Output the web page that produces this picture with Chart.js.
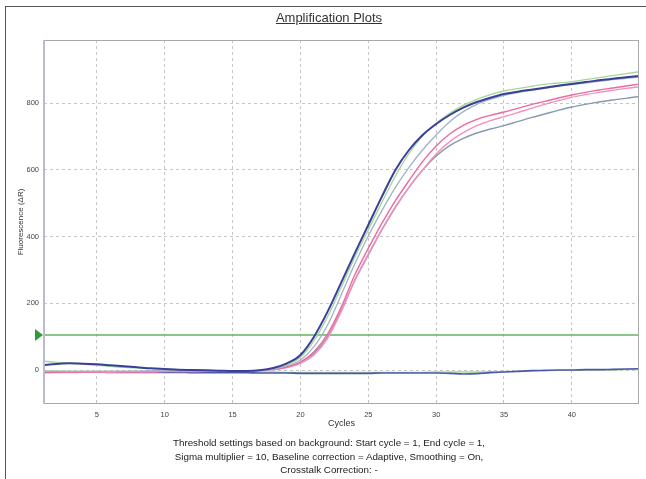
<!DOCTYPE html>
<html>
<head>
<meta charset="utf-8">
<script src="https://cdn.jsdelivr.net/npm/chart.js@4/dist/chart.umd.min.js"></script>
<style>
  html, body { margin: 0; padding: 0; background: #fff; }
  body { width: 646px; height: 479px; position: relative; overflow: hidden; font-family: "Liberation Sans", Arial, sans-serif; }
  #frame { position: absolute; left: 5px; top: 6px; width: 700px; height: 600px; border-left: 1px solid #555; border-top: 1px solid #555; }
  #chart { position: absolute; left: 0; top: 0; }
  #title { position: absolute; left: 0; width: 658px; top: 10px; text-align: center; font-size: 13px; color: #333; text-decoration: underline; }
  #footer { position: absolute; left: 0; width: 658px; top: 436px; text-align: center; font-size: 9.8px; line-height: 13.5px; color: #222; }
</style>
</head>
<body>
<div id="frame"></div>
<canvas id="chart" width="646" height="479"></canvas>
<div id="title">Amplification Plots</div>
<div id="footer">Threshold settings based on background: Start cycle = 1, End cycle = 1,<br>Sigma multiplier = 10, Baseline correction = Adaptive, Smoothing = On,<br>Crosstalk Correction: -</div>
<script>
// cycles 1..45
const cycles = [1, 2, 3, 4, 5, 6, 7, 8, 9, 10, 11, 12, 13, 14, 15, 16, 17, 18, 19, 20, 21, 22, 23,
    24, 25, 26, 27, 28, 29, 30, 31, 32, 33, 34, 35, 36, 37, 38, 39, 40, 41, 42, 43, 44, 45];

// Fluorescence (dR) per cycle
const navyCurve = [15, 18, 20, 19, 17, 14, 11, 8, 5, 3, 1, 0, -1, -2, -3, -3, -1, 6, 20, 45, 100, 175, 262,
    350, 435, 520, 600, 660, 705, 738, 765, 787, 804, 817, 828, 835, 841, 847, 853, 858, 864, 869, 874, 878, 882];
const greenCurve = [27, 23, 20, 17, 14, 11, 8, 6, 4, 2, 1, 0, -1, -2, -2, -2, -1, 4, 16, 38, 88, 160, 248,
    338, 420, 503, 582, 650, 702, 740, 770, 794, 812, 826, 837, 844, 851, 857, 861, 865, 871, 877, 883, 889, 895];
const grayCurve = [-4, -4, -4, -4, -4, -4, -4, -4, -3, -3, -3, -3, -3, -3, -2, -2, -1, 3, 13, 30, 70, 135, 225,
    318, 402, 478, 548, 608, 660, 705, 745, 775, 797, 812, 824, 832, 839, 845, 851, 856, 861, 866, 871, 875, 879];
const pinkCurveA = [-7, -7, -6, -6, -6, -5, -5, -5, -5, -4, -4, -4, -3, -3, -3, -2, -1, 2, 9, 24, 55, 108, 188,
    285, 365, 440, 508, 568, 625, 672, 708, 734, 752, 764, 774, 785, 796, 806, 816, 825, 833, 840, 846, 852, 858];
const pinkCurveB = [-9, -8, -8, -7, -7, -7, -6, -6, -6, -5, -5, -5, -4, -4, -4, -3, -2, 1, 7, 20, 45, 95, 175,
    270, 348, 422, 490, 548, 600, 648, 685, 712, 733, 748, 760, 772, 785, 797, 808, 818, 826, 833, 839, 845, 850];
const slateCurve = [-5, -5, -5, -5, -5, -5, -4, -4, -4, -4, -4, -4, -3, -3, -3, -3, -2, 2, 9, 23, 50, 100, 178,
    268, 345, 420, 488, 548, 600, 642, 673, 695, 711, 723, 733, 745, 757, 768, 779, 789, 797, 804, 810, 815, 821];
const navyNtc = [-6, -6, -6, -6, -6, -7, -7, -7, -7, -7, -7, -8, -8, -8, -8, -8, -9, -9, -9, -10, -10, -10, -10,
    -10, -10, -9, -9, -9, -9, -9, -10, -12, -11, -8, -6, -4, -2, -1, 0, 0, 1, 1, 2, 3, 4];
const greenNtc = [-3, -3, -4, -4, -4, -4, -5, -5, -5, -5, -5, -5, -6, -6, -6, -6, -6, -6, -7, -7, -7, -7, -7,
    -7, -7, -7, -7, -7, -7, -6, -6, -6, -6, -5, -5, -4, -3, -2, -1, -1, 0, 0, 0, 1, 1];

const threshold = 105;
const xTicks = [5, 10, 15, 20, 25, 30, 35, 40];
const yTicks = [0, 200, 400, 600, 800];

function pts(arr) {
    return cycles.map((c, i) => ({ x: c, y: arr[i] }));
}

function curve(arr, color, width) {
    return {
        data: pts(arr), borderColor: color, borderWidth: width, pointRadius: 0,
        fill: false, tension: 0.4, cubicInterpolationMode: "monotone"
    };
}

// frame round the plot + threshold marker
const framePlugin = {
    id: "frame",
    afterDraw(chart) {
        const { ctx, chartArea: a, scales } = chart;
        ctx.save();
        ctx.strokeStyle = "#a8a8a8";
        ctx.lineWidth = 1;
        ctx.strokeRect(a.left + 0.5, a.top + 0.5, a.right - a.left - 1, a.bottom - a.top - 1);
        ctx.strokeStyle = "#b8bccb";
        ctx.lineWidth = 2;
        ctx.beginPath();
        ctx.moveTo(a.left, a.top);
        ctx.lineTo(a.left, a.bottom);
        ctx.stroke();
        const ty = scales.y.getPixelForValue(threshold);
        ctx.fillStyle = "#2f9a3a";
        ctx.beginPath();
        ctx.moveTo(a.left - 9, ty - 6);
        ctx.lineTo(a.left - 1, ty);
        ctx.lineTo(a.left - 9, ty + 6);
        ctx.closePath();
        ctx.fill();
        ctx.restore();
    }
};

const tickFont = { family: "Liberation Sans", size: 7.5 };
const titleFont = { family: "Liberation Sans", size: 9 };

new Chart(document.getElementById("chart"), {
    type: "line",
    data: {
        datasets: [
            curve(navyCurve, "#3b3f98", 2),
            curve(greenCurve, "#a6d89a", 1.4),
            curve(grayCurve, "#a3b2c6", 1.3),
            curve(pinkCurveA, "#ec6aa0", 1.4),
            curve(pinkCurveB, "#f391bd", 1.4),
            curve(slateCurve, "#8799b0", 1.4),
            curve(navyNtc, "#4d58ad", 1.6),
            curve(greenNtc, "#a6d89a", 1.3),
            {
                data: [{ x: cycles[0], y: threshold }, { x: cycles[cycles.length - 1], y: threshold }],
                borderColor: "#62b462", borderWidth: 1.3, pointRadius: 0, fill: false
            }
        ]
    },
    options: {
        responsive: false,
        animation: false,
        devicePixelRatio: 1,
        layout: { padding: { left: 0, right: 7, top: 40, bottom: 0 } },
        plugins: { legend: { display: false }, tooltip: { enabled: false }, title: { display: false } },
        scales: {
            x: {
                type: "linear", min: 1.1, max: 44.95,
                afterBuildTicks: s => { s.ticks = xTicks.map(v => ({ value: v })); },
                afterFit: s => { s.height = 75; },
                grid: { color: "#c6c6c6", lineWidth: 1, drawTicks: false },
                border: { display: false, dash: [3, 3] },
                ticks: { font: tickFont, color: "#444", padding: 6, maxRotation: 0 },
                title: { display: true, text: "Cycles", font: titleFont, color: "#333", padding: { top: 0, bottom: 50 } }
            },
            y: {
                min: -102, max: 990,
                afterBuildTicks: s => { s.ticks = yTicks.map(v => ({ value: v })); },
                afterFit: s => { s.width = 44; },
                grid: { color: "#c6c6c6", lineWidth: 1, drawTicks: false },
                border: { display: false, dash: [3, 3] },
                ticks: { font: tickFont, color: "#444", padding: 5 },
                title: { display: true, text: "Fluorescence (ΔR)", font: { family: "Liberation Sans", size: 8 }, color: "#333", padding: { top: 16, bottom: 0 } }
            }
        }
    },
    plugins: [framePlugin]
});
</script>
</body>
</html>
